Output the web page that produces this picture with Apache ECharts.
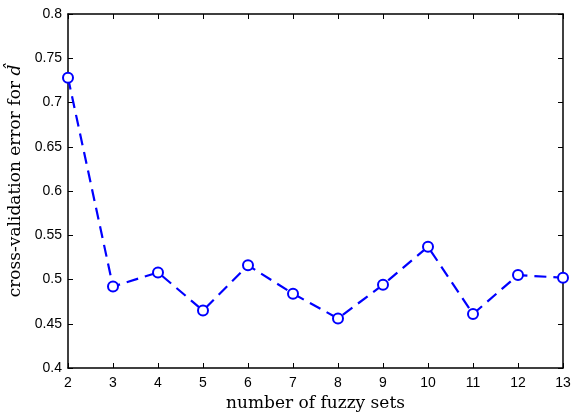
<!DOCTYPE html>
<html>
<head>
<meta charset="utf-8">
<script src="https://cdn.jsdelivr.net/npm/echarts@6/dist/echarts.min.js"></script>
<style>html,body{margin:0;padding:0;background:#fff}#c{width:577px;height:412px}</style>
</head>
<body>
<div id="c"></div>
<script>
const xValues = [2, 3, 4, 5, 6, 7, 8, 9, 10, 11, 12, 13];
const cvError = [0.728, 0.492, 0.508, 0.465, 0.516, 0.484, 0.456, 0.494, 0.537, 0.461, 0.505, 0.502];
const yTicks = [0.4, 0.45, 0.5, 0.55, 0.6, 0.65, 0.7, 0.75, 0.8];

const chart = echarts.init(document.getElementById('c'), null, {renderer: 'canvas'});
const tickFont = {fontFamily: 'Liberation Sans, Arial, sans-serif', fontSize: 14, color: '#000'};
const nameFont = {fontFamily: 'DejaVu Serif, serif', fontSize: 17, color: '#000'};
const axisLine = {show: true, lineStyle: {color: '#000', width: 1.5}};
const tick = {show: true, inside: true, length: 5, lineStyle: {color: '#000', width: 1}};
chart.setOption({
  animation: false,
  grid: {left: 68, top: 14, right: 14, bottom: 44, containLabel: false, outerBoundsMode: 'none'},
  xAxis: [{
    type: 'value', min: 2, max: 13, interval: 1,
    axisLine: axisLine, axisTick: tick, splitLine: {show: false},
    axisLabel: Object.assign({margin: 8}, tickFont),
    name: 'number of fuzzy sets', nameLocation: 'middle', nameGap: 22,
    nameTextStyle: nameFont
  }, {
    type: 'value', position: 'top', min: 2, max: 13, interval: 1,
    axisLine: axisLine, axisTick: tick, splitLine: {show: false},
    axisLabel: {show: false}
  }],
  yAxis: [{
    type: 'value', min: 0.4, max: 0.8, interval: 0.05,
    axisLine: axisLine, axisTick: tick, splitLine: {show: false},
    axisLabel: Object.assign({margin: 6, formatter: v => {
      const t = yTicks.find(x => Math.abs(x - v) < 1e-9);
      return t === undefined ? '' : String(+t.toFixed(2));
    }}, tickFont),
    name: 'cross-validation error for {i|d\u0302}', nameLocation: 'middle', nameGap: 31,
    nameTextStyle: Object.assign({padding: [0, 0, 0, 20], rich: {i: {fontFamily: 'DejaVu Serif, serif', fontStyle: 'italic', fontSize: 17}}}, nameFont)
  }, {
    type: 'value', position: 'right', min: 0.4, max: 0.8, interval: 0.05,
    axisLine: axisLine, axisTick: tick, splitLine: {show: false},
    axisLabel: {show: false}
  }],
  series: [{
    type: 'line',
    data: xValues.map((x, i) => [x, cvError[i]]),
    symbol: 'circle', symbolSize: 10,
    itemStyle: {color: '#fff', borderColor: '#0000ff', borderWidth: 2},
    lineStyle: {color: '#0000ff', width: 2.2, type: [12, 7]},
    clip: false
  }]
});
</script>
</body>
</html>
